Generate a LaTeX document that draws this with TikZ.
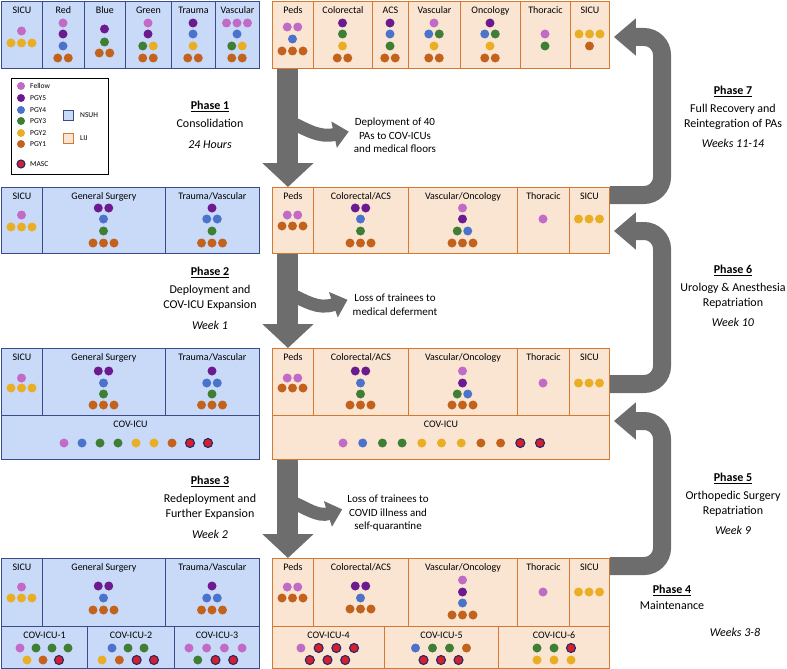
\documentclass[tikz,border=0pt]{standalone}
\usepackage{fontspec}
\setmainfont{Carlito}
\usepackage{xcolor}
\usepackage{tikz}
\usetikzlibrary{positioning,calc,arrows.meta}

\definecolor{nsuhfill}{HTML}{C9DAF8}
\definecolor{nsuhline}{HTML}{3A4A8A}
\definecolor{lijfill}{HTML}{FAE5D3}
\definecolor{lijline}{HTML}{D67832}
\definecolor{arrgray}{HTML}{6D6D6D}
\definecolor{felc}{HTML}{C16BC7}
\definecolor{pgfive}{HTML}{6C1A8F}
\definecolor{pgfour}{HTML}{4B73CB}
\definecolor{pgthree}{HTML}{3E7E35}
\definecolor{pgtwo}{HTML}{E9AE24}
\definecolor{pgone}{HTML}{C2621D}
\definecolor{mascc}{HTML}{D61F2C}
\definecolor{mascb}{HTML}{232A6B}

\tikzset{
  nc/.style={draw=nsuhline, fill=nsuhfill, line width=0.9pt, anchor=north west, inner sep=0pt},
  lc/.style={draw=lijline, fill=lijfill, line width=0.9pt, anchor=north west, inner sep=0pt},
  ttl/.style={anchor=north, inner sep=2pt, yshift=-3pt, text height=7.5pt, text depth=2pt, font=\fontsize{10}{12}\selectfont},
  fel/.style={fill=felc},
  pg5/.style={fill=pgfive},
  pg4/.style={fill=pgfour},
  pg3/.style={fill=pgthree},
  pg2/.style={fill=pgtwo},
  pg1/.style={fill=pgone},
  masc/.style={fill=mascc, draw=mascb, line width=1.1pt},
  legtxt/.style={anchor=west, inner sep=0pt, font=\fontsize{7.5}{9}\selectfont},
  phtxt/.style={align=center, anchor=north, inner sep=0pt, font=\fontsize{12}{15}\selectfont},
  note/.style={align=center, anchor=north, inner sep=0pt, font=\fontsize{11}{13.5}\selectfont},
  downarr/.style={draw=arrgray, line width=21pt, -{Triangle[width=50pt,length=24pt]}},
  branch/.style={draw=arrgray, line width=13pt, -{Triangle[width=26pt,length=15pt]}},
  backarr/.style={draw=arrgray, line width=18pt, rounded corners=18pt, -{Triangle[width=36pt,length=22pt]}}
}

% one row of dots centred on x
\newcommand\drow[4][10.5]{%
  \foreach \dc [count=\di] in {#4} {\xdef\dn{\di}}%
  \foreach \dc [count=\di] in {#4} {\path[\dc] ({#2+(\di-(\dn+1)/2)*#1},#3) circle (4.5pt);}%
}

\begin{document}
\begin{tikzpicture}[x=1pt,y=-1pt]
\useasboundingbox (0,0) rectangle (787,669);

% Row 1, before
\node[nc, minimum width=41pt, minimum height=67pt, label={[ttl]north:SICU}] (n1a) at (1,1) {};
\node[nc, minimum width=42pt, minimum height=67pt, label={[ttl]north:Red}] (n1b) at (42,1) {};
\node[nc, minimum width=41pt, minimum height=67pt, label={[ttl]north:Blue}] (n1c) at (84,1) {};
\node[nc, minimum width=46pt, minimum height=67pt, label={[ttl]north:Green}] (n1d) at (125,1) {};
\node[nc, minimum width=44pt, minimum height=67pt, label={[ttl]north:Trauma}] (n1e) at (171,1) {};
\node[nc, minimum width=44pt, minimum height=67pt, label={[ttl]north:Vascular}] (n1f) at (215,1) {};
\node[lc, minimum width=41pt, minimum height=67pt, label={[ttl]north:Peds}] (l1a) at (272,1) {};
\node[lc, minimum width=59pt, minimum height=67pt, label={[ttl]north:Colorectal}] (l1b) at (313,1) {};
\node[lc, minimum width=36pt, minimum height=67pt, label={[ttl]north:ACS}] (l1c) at (372,1) {};
\node[lc, minimum width=52pt, minimum height=67pt, label={[ttl]north:Vascular}] (l1d) at (408,1) {};
\node[lc, minimum width=60pt, minimum height=67pt, label={[ttl]north:Oncology}] (l1e) at (460,1) {};
\node[lc, minimum width=50pt, minimum height=67pt, label={[ttl]north:Thoracic}] (l1f) at (520,1) {};
\node[lc, minimum width=39pt, minimum height=67pt, label={[ttl]north:SICU}] (l1g) at (570,1) {};

\drow{21.5}{31}{fel} \drow{21.5}{43}{pg2,pg2,pg2}
\drow{63}{23}{fel} \drow{63}{34}{pg5} \drow{63}{46}{pg4} \drow{63}{58}{pg1,pg1}
\drow{104.5}{29}{pg5} \drow{104.5}{42}{pg3} \drow{104.5}{53}{pg1,pg1}
\drow{148}{23}{fel} \drow{148}{34}{pg5} \drow{148}{46}{pg3,pg2} \drow{148}{58}{pg1,pg1}
\drow{193}{23}{pg5} \drow{193}{34}{pg4} \drow{193}{46}{pg2} \drow{193}{58}{pg1,pg1}
\drow{237}{23}{fel,fel,fel} \drow{237}{34}{pg4} \drow{237}{46}{pg3,pg2} \drow{237}{58}{pg1,pg1}
\drow{292.5}{27}{fel,fel} \drow{292.5}{39}{pg4} \drow{292.5}{51}{pg1,pg1,pg1}
\drow{342.5}{23}{pg5} \drow{342.5}{34}{pg3} \drow{342.5}{46}{pg2} \drow{342.5}{58}{pg1,pg1}
\drow{390}{23}{pg5} \drow{390}{34}{pg4} \drow{390}{46}{pg3} \drow{390}{58}{pg1,pg1}
\drow{434}{23}{fel} \drow{434}{34}{pg4,pg3} \drow{434}{46}{pg2} \drow{434}{58}{pg1,pg1}
\drow{490}{23}{pg5} \drow{490}{34}{pg4,pg3} \drow{490}{46}{pg2} \drow{490}{58}{pg1,pg1}
\drow{545}{34}{fel} \drow{545}{46}{pg3}
\drow{589.5}{34}{pg2,pg2,pg2} \drow{589.5}{46}{pg1}

% Row 2, phase 1
\node[nc, minimum width=41pt, minimum height=66pt, label={[ttl]north:SICU}] (n2a) at (1,187) {};
\node[nc, minimum width=123pt, minimum height=66pt, label={[ttl]north:General Surgery}] (n2b) at (42,187) {};
\node[nc, minimum width=94pt, minimum height=66pt, label={[ttl]north:Trauma/Vascular}] (n2c) at (165,187) {};
\node[lc, minimum width=41pt, minimum height=66pt, label={[ttl]north:Peds}] (l2a) at (272,187) {};
\node[lc, minimum width=95pt, minimum height=66pt, label={[ttl]north:Colorectal/ACS}] (l2b) at (313,187) {};
\node[lc, minimum width=109pt, minimum height=66pt, label={[ttl]north:Vascular/Oncology}] (l2c) at (408,187) {};
\node[lc, minimum width=52pt, minimum height=66pt, label={[ttl]north:Thoracic}] (l2d) at (517,187) {};
\node[lc, minimum width=40pt, minimum height=66pt, label={[ttl]north:SICU}] (l2e) at (569,187) {};

\drow{21.5}{215}{fel} \drow{21.5}{227}{pg2,pg2,pg2}
\drow{103.5}{208}{pg5,pg5} \drow{103.5}{219}{pg4} \drow{103.5}{231}{pg3} \drow{103.5}{243}{pg1,pg1,pg1}
\drow{212}{208}{pg5} \drow{212}{219}{pg4,pg4} \drow{212}{231}{pg3} \drow{212}{243}{pg1,pg1,pg1}
\drow{292.5}{215}{fel,fel} \drow{292.5}{226}{pg1,pg1,pg1}
\drow{360.5}{208}{pg5,pg5} \drow{360.5}{219}{pg4} \drow{360.5}{231}{pg3} \drow{360.5}{243}{pg1,pg1,pg1}
\drow{462.5}{208}{fel} \drow{462.5}{219}{pg5} \drow{462.5}{231}{pg3,pg4} \drow{462.5}{243}{pg1,pg1,pg1}
\drow{543}{219}{fel}
\drow{589}{219}{pg2,pg2,pg2}

% Row 3, phase 2
\node[nc, minimum width=41pt, minimum height=67pt, label={[ttl]north:SICU}] (n3a) at (1,348) {};
\node[nc, minimum width=123pt, minimum height=67pt, label={[ttl]north:General Surgery}] (n3b) at (42,348) {};
\node[nc, minimum width=94pt, minimum height=67pt, label={[ttl]north:Trauma/Vascular}] (n3c) at (165,348) {};
\node[nc, minimum width=258pt, minimum height=44pt, label={[ttl]north:COV-ICU}] (n3z) at (1,415) {};
\node[lc, minimum width=41pt, minimum height=67pt, label={[ttl]north:Peds}] (l3a) at (272,348) {};
\node[lc, minimum width=95pt, minimum height=67pt, label={[ttl]north:Colorectal/ACS}] (l3b) at (313,348) {};
\node[lc, minimum width=109pt, minimum height=67pt, label={[ttl]north:Vascular/Oncology}] (l3c) at (408,348) {};
\node[lc, minimum width=52pt, minimum height=67pt, label={[ttl]north:Thoracic}] (l3d) at (517,348) {};
\node[lc, minimum width=40pt, minimum height=67pt, label={[ttl]north:SICU}] (l3e) at (569,348) {};
\node[lc, minimum width=337pt, minimum height=44pt, label={[ttl]north:COV-ICU}] (l3z) at (272,415) {};

\drow{21.5}{378}{fel} \drow{21.5}{388}{pg2,pg2,pg2}
\drow{103.5}{371}{pg5,pg5} \drow{103.5}{383}{pg4} \drow{103.5}{394}{pg3} \drow{103.5}{405}{pg1,pg1,pg1}
\drow{212}{371}{pg5} \drow{212}{383}{pg4,pg4} \drow{212}{394}{pg3} \drow{212}{405}{pg1,pg1,pg1}
\drow[18]{136}{443}{fel,pg4,pg3,pg3,pg2,pg2,pg1,masc,masc}
\drow{292.5}{378}{fel,fel} \drow{292.5}{388}{pg1,pg1,pg1}
\drow{360.5}{371}{pg5,pg5} \drow{360.5}{383}{pg4} \drow{360.5}{394}{pg3} \drow{360.5}{405}{pg1,pg1,pg1}
\drow{462.5}{371}{fel} \drow{462.5}{383}{pg5} \drow{462.5}{394}{pg3,pg4} \drow{462.5}{405}{pg1,pg1,pg1}
\drow{543}{383}{fel}
\drow{589}{383}{pg2,pg2,pg2}
\drow[19.7]{441.5}{443}{fel,pg4,pg3,pg3,pg2,pg2,pg2,pg1,pg1,masc,masc}

% Row 4, phase 3
\node[nc, minimum width=41pt, minimum height=68pt, label={[ttl]north:SICU}] (n4a) at (1,558) {};
\node[nc, minimum width=123pt, minimum height=68pt, label={[ttl]north:General Surgery}] (n4b) at (42,558) {};
\node[nc, minimum width=94pt, minimum height=68pt, label={[ttl]north:Trauma/Vascular}] (n4c) at (165,558) {};
\node[nc, minimum width=86pt, minimum height=42pt, label={[ttl]north:COV-ICU-1}] (n4x) at (1,626) {};
\node[nc, minimum width=87pt, minimum height=42pt, label={[ttl]north:COV-ICU-2}] (n4y) at (87,626) {};
\node[nc, minimum width=85pt, minimum height=42pt, label={[ttl]north:COV-ICU-3}] (n4z) at (174,626) {};
\node[lc, minimum width=41pt, minimum height=68pt, label={[ttl]north:Peds}] (l4a) at (272,558) {};
\node[lc, minimum width=95pt, minimum height=68pt, label={[ttl]north:Colorectal/ACS}] (l4b) at (313,558) {};
\node[lc, minimum width=109pt, minimum height=68pt, label={[ttl]north:Vascular/Oncology}] (l4c) at (408,558) {};
\node[lc, minimum width=52pt, minimum height=68pt, label={[ttl]north:Thoracic}] (l4d) at (517,558) {};
\node[lc, minimum width=40pt, minimum height=68pt, label={[ttl]north:SICU}] (l4e) at (569,558) {};
\node[lc, minimum width=112pt, minimum height=42pt, label={[ttl]north:COV-ICU-4}] (l4x) at (272,626) {};
\node[lc, minimum width=114pt, minimum height=42pt, label={[ttl]north:COV-ICU-5}] (l4y) at (384,626) {};
\node[lc, minimum width=111pt, minimum height=42pt, label={[ttl]north:COV-ICU-6}] (l4z) at (498,626) {};

\drow{21.5}{587}{fel} \drow{21.5}{598}{pg2,pg2,pg2}
\drow{103.5}{586}{pg5,pg5} \drow{103.5}{598}{pg4} \drow{103.5}{610}{pg1,pg1,pg1}
\drow{212}{586}{pg5} \drow{212}{598}{pg4,pg4} \drow{212}{610}{pg1,pg1,pg1}
\drow[16]{44}{648}{fel,pg3,pg3,pg3} \drow[16]{43}{660}{pg2,pg1,masc}
\drow[16]{128}{648}{pg4,pg3,pg3} \drow[17.3]{128}{660}{pg2,pg1,masc,masc}
\drow[17.7]{215.5}{648}{fel,fel,fel,fel} \drow[17.7]{215.5}{660}{pg3,masc,masc}
\drow{292.5}{587}{fel,fel} \drow{292.5}{598}{pg1,pg1,pg1}
\drow{360.5}{586}{pg5,pg5} \drow{360.5}{598}{pg4} \drow{360.5}{609}{pg1,pg1,pg1}
\drow{462.5}{580}{fel} \drow{462.5}{592}{pg5} \drow{462.5}{603}{pg4} \drow{462.5}{615}{pg1,pg1,pg1}
\drow{543}{592}{fel}
\drow{589}{592}{pg2,pg2,pg2}
\drow[17.7]{327.5}{648}{fel,masc,masc,masc} \drow[17.7]{327.5}{660}{masc,masc,masc}
\drow[17]{441}{648}{pg4,pg3,pg3,pg1} \drow[17.5]{441}{660}{masc,masc,masc}
\drow[17]{554}{648}{pg3,pg3,masc} \drow[17]{554}{660}{pg2,pg2,pg2}

% Legend
\node[draw=black, line width=0.9pt, minimum width=97pt, minimum height=96pt, anchor=north west, inner sep=0pt] (legbox) at (11,78) {};
\foreach \k/\t/\yy in {fel/Fellow/86, pg5/PGY5/98, pg4/PGY4/110, pg3/PGY3/121, pg2/PGY2/133, pg1/PGY1/144, masc/MASC/164} {
  \path[\k] (21,\yy) circle (4pt);
  \node[legtxt] (lg\k) at (30,\yy) {\t};
}
\node[nc, anchor=center, minimum size=10pt] (lgn) at (68,115) {};
\node[legtxt] (lgntxt) at (80,115) {NSUH};
\node[lc, anchor=center, minimum size=10pt] (lgl) at (68,138) {};
\node[legtxt] (lgltxt) at (80,138) {LIJ};

% Phase texts
\node[phtxt] (ph1) at (210,101) {\underline{\textbf{Phase 1}}\\[3pt] Consolidation\\[6pt] \textit{24 Hours}};
\node[phtxt] (ph2) at (210,267) {\underline{\textbf{Phase 2}}\\[3pt] Deployment and\\ COV-ICU Expansion\\[6pt] \textit{Week 1}};
\node[phtxt] (ph3) at (210,476) {\underline{\textbf{Phase 3}}\\[3pt] Redeployment and\\ Further Expansion\\[6pt] \textit{Week 2}};
\node[phtxt] (ph4) at (672,585) {\underline{\textbf{Phase 4}}\\[1pt] Maintenance};
\node[phtxt, anchor=center] (ph4w) at (735,632) {\textit{Weeks 3-8}};
\node[phtxt] (ph5) at (733,473) {\underline{\textbf{Phase 5}}\\[3pt] Orthopedic Surgery\\ Repatriation\\[5pt] \textit{Week 9}};
\node[phtxt] (ph6) at (733,265) {\underline{\textbf{Phase 6}}\\[3pt] Urology \& Anesthesia\\ Repatriation\\[5pt] \textit{Week 10}};
\node[phtxt] (ph7) at (733,86) {\underline{\textbf{Phase 7}}\\[3pt] Full Recovery and\\ Reintegration of PAs\\[5pt] \textit{Weeks 11-14}};

\node[note] (dep) at (395,118) {Deployment of 40\\ PAs to COV-ICUs\\ and medical floors};
\node[note] (loss1) at (395,294) {Loss of trainees to\\ medical deferment};
\node[note] (loss2) at (388,495) {Loss of trainees to\\ COVID illness and\\ self-quarantine};

% Down arrows
\draw[downarr] ([xshift=-5pt]l1a.south) -- ([xshift=-5pt]l2a.north);
\draw[downarr] ([xshift=-5pt]l2a.south) -- ([xshift=-5pt]l3a.north);
\draw[downarr] ($(l4a.north |- l3z.south)+(-5,0)$) -- ([xshift=-5pt]l4a.north);

% Branches off the down arrows
\coordinate (br1) at (290,122);
\coordinate (br2) at (290,294);
\coordinate (br3) at (290,501);
\draw[branch] (br1) .. controls ($(br1)+(16,7)$) and ($(br1)+(28,16)$) .. ([xshift=-5pt,yshift=4pt]dep.west);
\draw[branch] (br2) .. controls ($(br2)+(16,7)$) and ($(br2)+(28,16)$) .. ([xshift=-5pt,yshift=5pt]loss1.west);
\draw[branch] (br3) .. controls ($(br3)+(16,7)$) and ($(br3)+(28,16)$) .. ([xshift=-5pt,yshift=4pt]loss2.west);

% Return arrows
\draw[backarr] ([yshift=-8pt]l2e.north east) -| (662,37) -- ([xshift=4pt,yshift=-36pt]l1g.north east);
\draw[backarr] ([yshift=-36pt]l3e.north east) -| (662,231) -- ([xshift=4pt,yshift=-44pt]l2e.north east);
\draw[backarr] ([yshift=-8pt]l4e.north east) -| (662,421) -- ([xshift=4pt,yshift=-6pt]l3z.north east);

\end{tikzpicture}
\end{document}
